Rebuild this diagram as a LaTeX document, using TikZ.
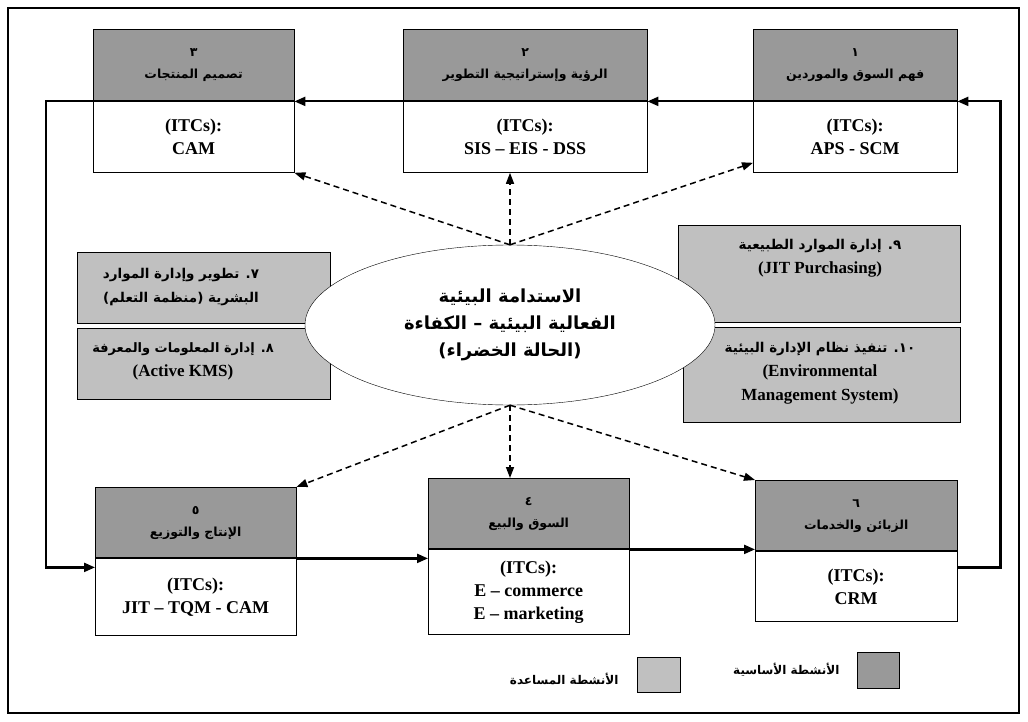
\documentclass[tikz,border=0pt]{standalone}
\usepackage{fontspec}
\setmainfont{Liberation Serif}
\newfontfamily\arabicfont[Script=Arabic]{DejaVu Sans}
\TeXXeTstate=1
\usepackage{xcolor}
\usepackage{tikz}
\usetikzlibrary{shapes.geometric}
\usetikzlibrary{arrows.meta}
\usetikzlibrary{positioning}

\definecolor{coregray}{RGB}{153,153,153}
\definecolor{supgray}{RGB}{192,192,192}
\newcommand{\ar}[1]{{\arabicfont\bfseries\beginR #1\endR}}

\begin{document}
\begin{tikzpicture}[x=1pt, y=-1pt]
        \tikzset{
            coretop/.style={
                draw, fill=coregray, anchor=north west,
                minimum height=72, inner sep=0, align=center,
                font=\fontsize{12.5}{22}\selectfont,
            },
            corebot/.style={
                draw, fill=white, anchor=north west,
                inner sep=0, align=center,
                font=\fontsize{18}{23}\selectfont\bfseries,
            },
            supbox/.style={
                draw, fill=supgray, anchor=north west, inner sep=0,
            },
            suptext/.style={
                align=center, font=\fontsize{17}{24}\selectfont\bfseries,
            },
            flow/.style={-{Triangle[length=11pt,width=9pt]}, line width=2.2pt},
            dasharr/.style={-{Triangle[length=11pt,width=8pt]}, line width=1.5pt, dash pattern=on 6pt off 4pt},
        }
        \useasboundingbox (0,0) rectangle (1028,722);
        \draw[line width=2.8pt] (8,8) rectangle (1019,713);

        % core activities
        \node[coretop, minimum width=204] (t1) at (753,29) {\ar{١}\\\ar{فهم السوق والموردين}};
        \node[corebot, minimum width=204, minimum height=71] (b1) at (t1.south west) {(ITCs):\\APS - SCM};
        \node[coretop, minimum width=244] (t2) at (403,29) {\ar{٢}\\\ar{الرؤية وإستراتيجية التطوير}};
        \node[corebot, minimum width=244, minimum height=71] (b2) at (t2.south west) {(ITCs):\\SIS -- EIS - DSS};
        \node[coretop, minimum width=201] (t3) at (93,29) {\ar{٣}\\\ar{تصميم المنتجات}};
        \node[corebot, minimum width=201, minimum height=71] (b3) at (t3.south west) {(ITCs):\\CAM};
        \node[coretop, minimum width=201, minimum height=71] (t4) at (428,478) {\ar{٤}\\\ar{السوق والبيع}};
        \node[corebot, minimum width=201, minimum height=85] (b4) at (t4.south west) {(ITCs):\\E -- commerce\\E -- marketing};
        \node[coretop, minimum width=201, minimum height=71] (t5) at (95,487) {\ar{٥}\\\ar{الإنتاج والتوزيع}};
        \node[corebot, minimum width=201, minimum height=77] (b5) at (t5.south west) {(ITCs):\\JIT -- TQM - CAM};
        \node[coretop, minimum width=202, minimum height=71] (t6) at (755,480) {\ar{٦}\\\ar{الزبائن والخدمات}};
        \node[corebot, minimum width=202, minimum height=70] (b6) at (t6.south west) {(ITCs):\\CRM};
        \foreach \n in {1,...,6}
            \draw[line width=2pt] (t\n.south west) -- (t\n.south east);

        % support activities
        \node[supbox, minimum width=253, minimum height=71] (s7) at (77,252) {};
        \node[supbox, minimum width=253, minimum height=71] (s8) at (77,328) {};
        \node[supbox, minimum width=282, minimum height=97] (s9) at (678,225) {};
        \node[supbox, minimum width=277, minimum height=95] (s10) at (683,327) {};
        \node[suptext] (l7) at (181,287) {\ar{\fontsize{13.5}{24}\selectfont ٧. تطوير وإدارة الموارد}\\\ar{\fontsize{13.5}{24}\selectfont البشرية (منظمة التعلم)}};
        \node[suptext] (l8) at (183,361) {\ar{\fontsize{13}{24}\selectfont ٨. إدارة المعلومات والمعرفة}\\(Active KMS)};
        \node[suptext] (l9) at (820,258) {\ar{\fontsize{13.5}{24}\selectfont ٩. إدارة الموارد الطبيعية}\\(JIT Purchasing)};
        \node[suptext] (l10) at (820,373) {\ar{\fontsize{13.5}{24}\selectfont\beginL١٠\endL. تنفيذ نظام الإدارة البيئية}\\(Environmental\\Management System)};

        % goal
        \node[ellipse, draw, fill=white, minimum width=410, minimum height=160, inner sep=0,
              align=center, font=\fontsize{18}{27}\selectfont] (g) at (510,325)
            {\ar{الاستدامة البيئية}\\\ar{الفعالية البيئية – الكفاءة}\\\ar{(الحالة الخضراء)}};

        % flows
        \draw[flow] (t1.south west) -- (t2.south east);
        \draw[flow] (t2.south west) -- (t3.south east);
        \draw[flow] (t3.south west) -- ++(-47,0) |- ([yshift=-9pt]t5.south west);
        \draw[flow] (t5.south east) -- (t5.south east -| b4.west);
        \draw[flow] (t4.south east) -- (t4.south east -| b6.west);
        \draw[flow] ([yshift=-16pt]t6.south east) -- ++(43,0) |- (t1.south east);

        \draw[dasharr] (g.north) -- (b3.south east);
        \draw[dasharr] (g.north) -- (g.north |- b2.south);
        \draw[dasharr] (g.north) -- ([yshift=10pt]b1.south west);
        \draw[dasharr] (g.south) -- (t5.north east);
        \draw[dasharr] (g.south) -- (g.south |- t4.north);
        \draw[dasharr] (g.south) -- (t6.north west);

        % legend
        \node[draw, fill=coregray, minimum width=42, minimum height=36, anchor=north west] (k1) at (857,652) {};
        \node[left=14pt of k1, font=\fontsize{12}{14}\selectfont] (k1t) {\ar{الأنشطة الأساسية}};
        \node[draw, fill=supgray, minimum width=43, minimum height=35, anchor=north west] (k2) at (637,657) {};
        \node[left=15pt of k2, yshift=-4pt, font=\fontsize{12}{14}\selectfont] (k2t) {\ar{الأنشطة المساعدة}};
\end{tikzpicture}
\end{document}
